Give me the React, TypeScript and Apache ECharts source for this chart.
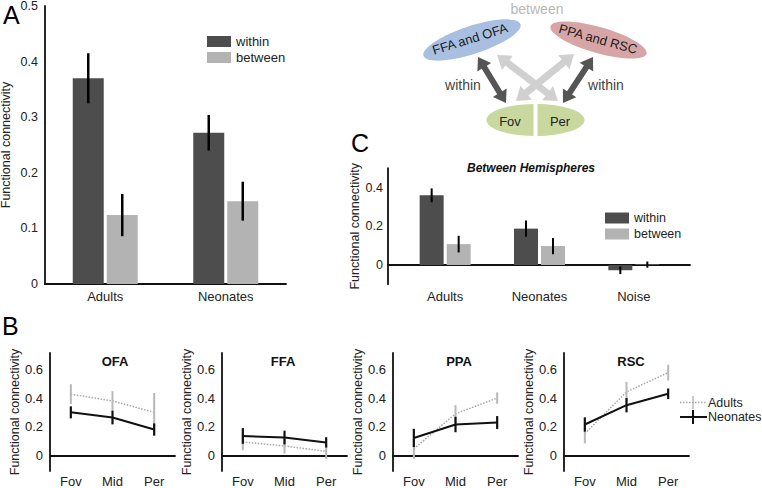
import React, { useEffect, useRef } from 'react';
import * as echarts from 'echarts';

const FONT = "'Liberation Sans', Arial, Helvetica, sans-serif";

// ---------- Panel A ----------
const groupsA = ['Adults', 'Neonates'];
const withinA = [0.37, 0.272];
const withinAErr = [0.045, 0.032];
const betweenA = [0.124, 0.149];
const betweenAErr = [0.038, 0.035];

// ---------- Panel C ----------
const groupsC = ['Adults', 'Neonates', 'Noise'];
const withinC = [0.36, 0.188, -0.027];
const withinCErr = [0.036, 0.042, 0.02];
const betweenC = [0.108, 0.098, 0.002];
const betweenCErr = [0.043, 0.042, 0.016];
const ticksC = [0, 0.2, 0.4];

// ---------- Panel B ----------
const regions = ['OFA', 'FFA', 'PPA', 'RSC'];
const eccentricity = ['Fov', 'Mid', 'Per'];
const adultsB = [
  [0.427, 0.38, 0.3],
  [0.093, 0.065, 0.028],
  [0.045, 0.29, 0.4],
  [0.152, 0.443, 0.578],
];
const adultsBErr = [
  [0.07, 0.068, 0.135],
  [0.058, 0.053, 0.055],
  [0.07, 0.06, 0.04],
  [0.068, 0.07, 0.055],
];
const neonatesB = [
  [0.3, 0.264, 0.18],
  [0.135, 0.124, 0.09],
  [0.121, 0.215, 0.229],
  [0.215, 0.35, 0.43],
];
const neonatesBErr = [
  [0.042, 0.048, 0.043],
  [0.055, 0.048, 0.036],
  [0.064, 0.054, 0.045],
  [0.05, 0.05, 0.037],
];
const ticksB = [0, 0.2, 0.4, 0.6];

const DARK = '#4d4d4d';
const LIGHT = '#b3b3b3';
const AXIS = { color: '#111', width: 1.8 };
const TXT = '#222';

const fmt = (v: number) => (Math.abs(v) < 1e-9 ? '0' : String(+v.toFixed(1)));

function errSeries(
  xi: number,
  yi: number,
  means: number[],
  errs: number[],
  color: string,
  width: number,
  offset: number
) {
  return {
    type: 'custom',
    xAxisIndex: xi,
    yAxisIndex: yi,
    silent: true,
    z: 5,
    data: means.map((m, i) => [i, m - errs[i], m + errs[i]]),
    renderItem: (_p: any, api: any) => {
      const a = api.coord([api.value(0), api.value(1)]);
      const b = api.coord([api.value(0), api.value(2)]);
      return {
        type: 'line',
        shape: { x1: a[0] + offset, y1: a[1], x2: b[0] + offset, y2: b[1] },
        style: { stroke: color, lineWidth: width },
      };
    },
  };
}

function arrowPoints(x1: number, y1: number, x2: number, y2: number, shaft: number, headLen: number, headW: number) {
  const dx = x2 - x1;
  const dy = y2 - y1;
  const len = Math.hypot(dx, dy);
  const ux = dx / len;
  const uy = dy / len;
  const nx = -uy;
  const ny = ux;
  const p = (t: number, s: number) => [x1 + ux * t + nx * s, y1 + uy * t + ny * s];
  return [
    p(0, 0),
    p(headLen, headW / 2),
    p(headLen, shaft / 2),
    p(len - headLen, shaft / 2),
    p(len - headLen, headW / 2),
    p(len, 0),
    p(len - headLen, -headW / 2),
    p(len - headLen, -shaft / 2),
    p(headLen, -shaft / 2),
    p(headLen, -headW / 2),
  ];
}

export default function App() {
  const ref = useRef<HTMLDivElement>(null);

  useEffect(() => {
    if (!ref.current) return;
    const chart = echarts.init(ref.current, undefined, { renderer: 'svg' });

    const bLefts = [50, 222, 393, 564];
    const bTitleX = [115, 283, 459, 631];

    const gridBase = { outerBoundsMode: 'none', containLabel: false };
    const grids: any[] = [
      { ...gridBase, left: 45, top: 6, width: 241, height: 278 }, // A
      { ...gridBase, left: 388, top: 168.25, width: 302, height: 116.1 }, // C frame
      { ...gridBase, left: 398, top: 168.25, width: 283, height: 116.1 }, // C bars
      ...bLefts.map((l) => ({ ...gridBase, left: l, top: 353, width: 125, height: 118 })),
    ];

    const nameStyle = { fontSize: 12.5, color: TXT, fontFamily: FONT };

    const xAxes: any[] = [
      {
        gridIndex: 0,
        type: 'category',
        data: groupsA,
        axisLine: { lineStyle: AXIS },
        axisTick: { show: false },
        axisLabel: { margin: 6, fontSize: 13, color: TXT, fontFamily: FONT },
      },
      {
        gridIndex: 1,
        type: 'value',
        min: 0,
        max: 1,
        axisLine: { onZero: true, lineStyle: AXIS },
        axisTick: { show: false },
        axisLabel: { show: false },
        splitLine: { show: false },
      },
      {
        gridIndex: 2,
        type: 'category',
        data: groupsC,
        axisLine: { show: false, onZero: false },
        axisTick: { show: false },
        axisLabel: { margin: 6, fontSize: 13, color: TXT, fontFamily: FONT },
      },
      ...regions.map((_, k) => ({
        gridIndex: 3 + k,
        type: 'category',
        data: eccentricity,
        axisLine: { onZero: true, lineStyle: AXIS },
        axisTick: { show: false },
        axisLabel: { margin: 5, fontSize: 13, lineHeight: 11, color: TXT, fontFamily: FONT },
      })),
    ];

    const yAxes: any[] = [
      {
        gridIndex: 0,
        type: 'value',
        min: 0,
        max: 0.5,
        interval: 0.1,
        splitLine: { show: false },
        axisLine: { show: true, lineStyle: AXIS },
        axisTick: { show: false },
        axisLabel: { formatter: fmt, margin: 7, fontSize: 12.5, color: TXT, fontFamily: FONT },
        name: 'Functional connectivity',
        nameLocation: 'middle',
        nameGap: 33,
        nameTextStyle: nameStyle,
      },
      {
        gridIndex: 1,
        type: 'value',
        min: -0.1,
        max: 0.5,
        splitLine: { show: false },
        axisLine: { show: true, lineStyle: AXIS },
        axisTick: { show: false },
        axisLabel: { customValues: ticksC, formatter: fmt, margin: 5, fontSize: 12.5, color: TXT, fontFamily: FONT },
        name: 'Functional connectivity',
        nameLocation: 'middle',
        nameGap: 26,
        nameTextStyle: nameStyle,
      },
      {
        gridIndex: 2,
        type: 'value',
        min: -0.1,
        max: 0.5,
        show: false,
        splitLine: { show: false },
      },
      ...regions.map((_, k) => ({
        gridIndex: 3 + k,
        type: 'value',
        min: -0.11,
        max: 0.715,
        splitLine: { show: false },
        axisLine: { show: true, lineStyle: AXIS },
        axisTick: { show: false },
        axisLabel: { customValues: ticksB, formatter: fmt, margin: 7, fontSize: 13, color: TXT, fontFamily: FONT },
        name: 'Functional connectivity',
        nameLocation: 'middle',
        nameGap: 25,
        nameTextStyle: nameStyle,
      })),
    ];

    const series: any[] = [
      // A
      { type: 'bar', name: 'within', xAxisIndex: 0, yAxisIndex: 0, data: withinA, barWidth: 31, barGap: '9.7%', itemStyle: { color: DARK }, silent: true },
      { type: 'bar', name: 'between', xAxisIndex: 0, yAxisIndex: 0, data: betweenA, barWidth: 31, barGap: '9.7%', itemStyle: { color: LIGHT }, silent: true },
      errSeries(0, 0, withinA, withinAErr, '#000', 2.5, -17),
      errSeries(0, 0, betweenA, betweenAErr, '#000', 2.5, 17),
      // C
      { type: 'bar', name: 'within', xAxisIndex: 2, yAxisIndex: 2, data: withinC, barWidth: 24, barGap: '12.5%', itemStyle: { color: DARK }, silent: true },
      { type: 'bar', name: 'between', xAxisIndex: 2, yAxisIndex: 2, data: betweenC, barWidth: 24, barGap: '12.5%', itemStyle: { color: LIGHT }, silent: true },
      errSeries(2, 2, withinC, withinCErr, '#000', 2, -13.5),
      errSeries(2, 2, betweenC, betweenCErr, '#000', 2, 13.5),
    ];

    regions.forEach((_, k) => {
      const ai = 3 + k;
      series.push(errSeries(ai, ai, adultsB[k], adultsBErr[k], '#b8b8b8', 2, 0));
      series.push({
        type: 'line',
        name: 'Adults',
        xAxisIndex: ai,
        yAxisIndex: ai,
        data: adultsB[k],
        symbol: 'none',
        silent: true,
        z: 3,
        lineStyle: { color: '#a8a8a8', width: 1.5, type: 'dotted' },
      });
      series.push({
        type: 'line',
        name: 'Neonates',
        xAxisIndex: ai,
        yAxisIndex: ai,
        data: neonatesB[k],
        symbol: 'none',
        silent: true,
        z: 4,
        lineStyle: { color: '#111', width: 2 },
      });
      series.push(errSeries(ai, ai, neonatesB[k], neonatesBErr[k], '#111', 2.2, 0));
    });

    const legendText = { color: TXT, fontFamily: FONT, lineHeight: 16 };

    const graphic: any[] = [
      // panel letters
      { type: 'text', left: 3, top: 2, style: { text: 'A', fontSize: 25, fontFamily: FONT, fill: '#000' } },
      { type: 'text', left: 2, top: 313, style: { text: 'B', fontSize: 25, fontFamily: FONT, fill: '#000' } },
      { type: 'text', left: 351, top: 130, style: { text: 'C', fontSize: 25, fontFamily: FONT, fill: '#000' } },
      // C title
      {
        type: 'text',
        x: 531,
        y: 168,
        style: { text: 'Between Hemispheres', fontSize: 12, fontWeight: 'bold', fontStyle: 'italic', fontFamily: FONT, fill: '#111', textAlign: 'center', textVerticalAlign: 'middle' },
      },
      // B titles
      ...regions.map((r, k) => ({
        type: 'text',
        x: bTitleX[k],
        y: 361,
        style: { text: r, fontSize: 13, fontWeight: 'bold', fontFamily: FONT, fill: '#111', textAlign: 'center', textVerticalAlign: 'middle' },
      })),
      // B legend
      { type: 'line', shape: { x1: 680, y1: 402.5, x2: 707, y2: 402.5 }, style: { stroke: '#a8a8a8', lineWidth: 1.5, lineDash: [1.5, 1.5] } },
      { type: 'line', shape: { x1: 693, y1: 396, x2: 693, y2: 409 }, style: { stroke: '#b8b8b8', lineWidth: 1.5 } },
      { type: 'text', x: 708, y: 402.5, style: { text: 'Adults', fontSize: 12.5, fontFamily: FONT, fill: TXT, textVerticalAlign: 'middle' } },
      { type: 'line', shape: { x1: 680, y1: 417, x2: 707, y2: 417 }, style: { stroke: '#111', lineWidth: 2 } },
      { type: 'line', shape: { x1: 693, y1: 410, x2: 693, y2: 424 }, style: { stroke: '#111', lineWidth: 2 } },
      { type: 'text', x: 708, y: 417, style: { text: 'Neonates', fontSize: 12.5, fontFamily: FONT, fill: TXT, textVerticalAlign: 'middle' } },
      // Diagram
      { type: 'text', x: 537, y: 9, style: { text: 'between', fontSize: 14, fontFamily: FONT, fill: '#b8b8b8', textAlign: 'center', textVerticalAlign: 'middle' } },
      { type: 'ellipse', x: 472, y: 40, rotation: 0.314, shape: { cx: 0, cy: 0, rx: 51, ry: 14 }, style: { fill: '#a9bfe2' } },
      { type: 'text', x: 470, y: 39, rotation: 0.3, style: { text: 'FFA and OFA', fontSize: 13, fontFamily: FONT, fill: '#1a1a1a', textAlign: 'center', textVerticalAlign: 'middle' } },
      { type: 'ellipse', x: 598.5, y: 40, rotation: -0.28, shape: { cx: 0, cy: 0, rx: 50, ry: 13 }, style: { fill: '#d8a5a6' } },
      { type: 'text', x: 598, y: 39, rotation: -0.27, style: { text: 'PPA and RSC', fontSize: 13, fontFamily: FONT, fill: '#1a1a1a', textAlign: 'center', textVerticalAlign: 'middle' } },
      { type: 'ellipse', shape: { cx: 535.5, cy: 120, rx: 49, ry: 16 }, style: { fill: '#c8d89e' } },
      { type: 'rect', shape: { x: 533.5, y: 100, width: 4, height: 40 }, style: { fill: '#fff' } },
      { type: 'text', x: 510, y: 121, style: { text: 'Fov', fontSize: 13, fontFamily: FONT, fill: '#222', textAlign: 'center', textVerticalAlign: 'middle' } },
      { type: 'text', x: 560, y: 121, style: { text: 'Per', fontSize: 13, fontFamily: FONT, fill: '#222', textAlign: 'center', textVerticalAlign: 'middle' } },
      { type: 'polygon', shape: { points: arrowPoints(497, 55, 558, 101, 7, 13, 18) }, style: { fill: '#d0d0d0' } },
      { type: 'polygon', shape: { points: arrowPoints(574, 54, 516, 101, 7, 13, 18) }, style: { fill: '#d0d0d0' } },
      { type: 'polygon', shape: { points: arrowPoints(478, 57, 506, 103, 6, 12, 16) }, style: { fill: '#555' } },
      { type: 'polygon', shape: { points: arrowPoints(593, 57, 563, 103, 6, 12, 16) }, style: { fill: '#555' } },
      { type: 'text', x: 463, y: 85, style: { text: 'within', fontSize: 14, fontFamily: FONT, fill: '#444', textAlign: 'center', textVerticalAlign: 'middle' } },
      { type: 'text', x: 606, y: 85, style: { text: 'within', fontSize: 14, fontFamily: FONT, fill: '#444', textAlign: 'center', textVerticalAlign: 'middle' } },
    ];

    chart.setOption({
      animation: false,
      textStyle: { fontFamily: FONT },
      grid: grids,
      xAxis: xAxes,
      yAxis: yAxes,
      legend: [
        {
          data: ['within', 'between'],
          orient: 'vertical',
          left: 207,
          top: 33.5,
          itemWidth: 24,
          itemHeight: 11,
          itemGap: 0,
          padding: 0,
          icon: 'rect',
          selectedMode: false,
          textStyle: { ...legendText, fontSize: 13 },
        },
        {
          data: ['within', 'between'],
          orient: 'vertical',
          left: 605,
          top: 210,
          itemWidth: 24,
          itemHeight: 11,
          itemGap: 0,
          padding: 0,
          icon: 'rect',
          selectedMode: false,
          textStyle: { ...legendText, fontSize: 12.5 },
        },
      ],
      series,
      graphic,
    });

    return () => chart.dispose();
  }, []);

  return <div ref={ref} style={{ position: 'absolute', left: 0, top: 0, width: 762, height: 488 }} />;
}
